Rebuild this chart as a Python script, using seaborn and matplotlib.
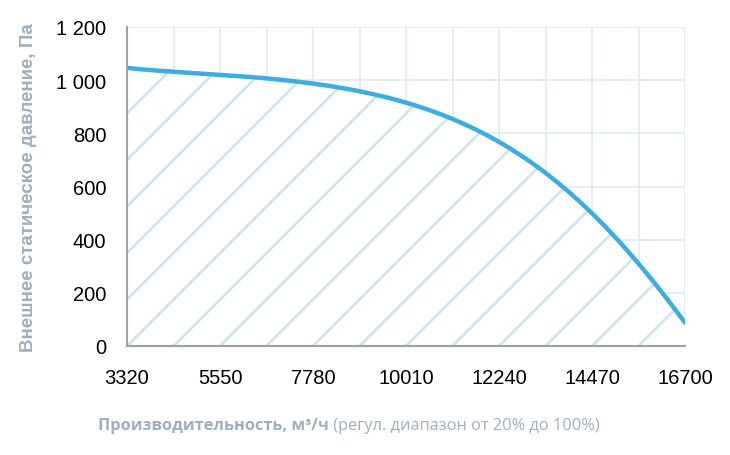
import numpy as np
import pandas as pd
import matplotlib
matplotlib.use("Agg")
import matplotlib.pyplot as plt
import matplotlib.ticker as mticker
import seaborn as sns

# airflow, m3/h and external static pressure, Pa
flow = [3320, 4435, 5550, 6665, 7780, 8895, 10010, 11125, 12240, 13355, 14470, 15585, 16700]
pressure = [1046, 1032, 1020, 1006, 988, 958, 915, 855, 768, 648, 503, 308, 88]
flow_ticks = [3320, 5550, 7780, 10010, 12240, 14470, 16700]

line_color = "#3cade2"
hatch_color = "#cfe5ef"
grid_color = "#e1ebf4"
label_color = "#9fafbe"

sns.set_style("white")
plt.rcParams["font.family"] = ["Liberation Sans", "DejaVu Sans"]

fig = plt.figure(figsize=(7.3, 4.56), dpi=100)
ax = fig.add_axes([127 / 730, 1 - 347 / 456, 558 / 730, 319 / 456])

# smooth curve through the read points
fx = np.array(flow, dtype=float)
u = (fx - fx.mean()) / fx.std()
coef = np.polyfit(u, pressure, 6)
xs = np.linspace(flow[0], flow[-1], 300)
ys = np.polyval(coef, (xs - fx.mean()) / fx.std())
curve = pd.DataFrame({"flow": xs, "pressure": ys})

poly = ax.fill_between(xs, 0, ys, color="white", lw=0, zorder=1)

# diagonal hatch at 45 degrees, clipped to the area under the curve
slope = 319 / 558
for k in range(-7, 13):
    x0 = k / 12
    h, = ax.plot([x0, x0 + slope], [0, 1], transform=ax.transAxes,
                 color=hatch_color, lw=2.0, zorder=2, solid_capstyle="butt")
    h.set_clip_path(poly.get_paths()[0], ax.transData)

sns.lineplot(data=curve, x="flow", y="pressure", ax=ax, color=line_color,
             lw=3.2, zorder=4)

ax.set_xlim(flow[0], flow[-1])
ax.set_ylim(0, 1200)
ax.xaxis.set_major_locator(mticker.FixedLocator(flow_ticks))
ax.xaxis.set_minor_locator(mticker.FixedLocator(flow))
ax.yaxis.set_major_locator(mticker.MultipleLocator(200))
ax.yaxis.set_major_formatter(mticker.FuncFormatter(
    lambda v, p: f"{int(v):,}".replace(",", " ")))

ax.grid(True, which="both", axis="x", color=grid_color, lw=1.2, zorder=0)
ax.grid(True, which="major", axis="y", color=grid_color, lw=1.2, zorder=0)
ax.set_axisbelow(True)

for s in ["top", "right"]:
    ax.spines[s].set_visible(False)
for s in ["left", "bottom"]:
    ax.spines[s].set_color("#a0a0a0")
    ax.spines[s].set_linewidth(1.5)
    ax.spines[s].set_zorder(5)

ax.tick_params(axis="both", which="both", direction="out", color="#a0a0a0",
               width=1.3, length=6, labelsize=14.5, labelcolor="black")
ax.tick_params(axis="x", pad=10)
ax.tick_params(axis="y", pad=9)

ax.set_xlabel("")
ax.set_ylabel("Внешнее статическое давление, Па", color=label_color,
              fontsize=13.5, fontweight="bold", labelpad=14)

t1 = fig.text(98 / 730, 1 - 426 / 456, "Производительность, м³/ч",
              fontsize=11.8, fontweight="bold", color=label_color,
              family=["Open Sans", "DejaVu Sans"], va="center", ha="left")
ax.annotate(" (регул. диапазон от 20% до 100%)", xy=(1, 0.5),
            xycoords=t1, va="center", ha="left", fontsize=11.8,
            color=label_color, family=["Open Sans", "DejaVu Sans"])

fig.savefig("out.png", dpi=100)
